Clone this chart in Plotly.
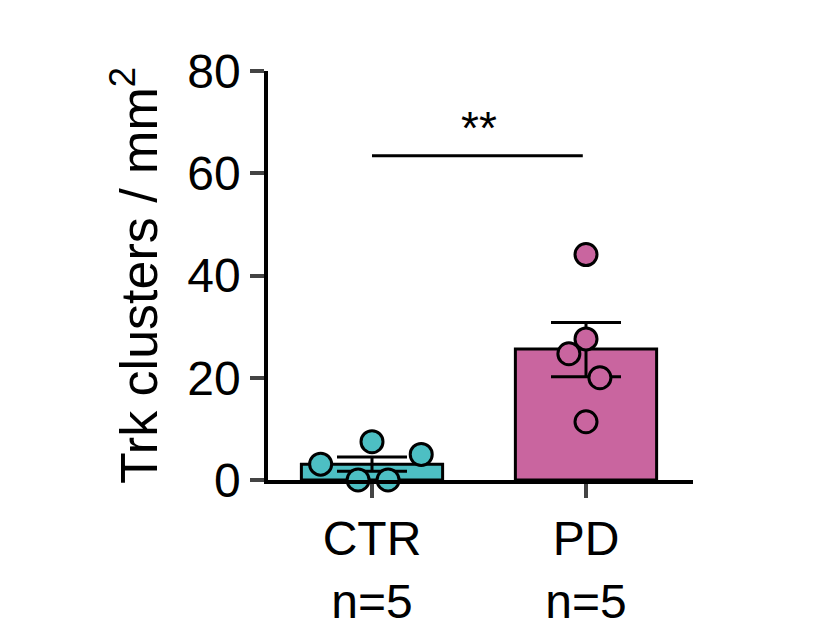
import plotly.graph_objects as go

groups = ["CTR", "PD"]
tick_labels = ["CTR<br>n=5", "PD<br>n=5"]
means = [3.1, 25.6]
sem_plus = [1.4, 5.2]
sem_minus = [1.4, 5.4]
ctr_vals = [3.1, 7.5, 0.0, 0.0, 5.0]
ctr_jitter = [-0.24, 0.0, -0.065, 0.075, 0.23]
pd_vals = [44.1, 27.6, 24.7, 20.0, 11.4]
pd_jitter = [0.0, 0.0, -0.08, 0.065, 0.0]
colors = ["#4dbfc3", "#c9659f"]
sig_y = 63.4

fig = go.Figure()
fig.add_bar(x=[0, 1], y=means, width=0.66, marker=dict(color=colors, line=dict(color="black", width=3)))
fig.add_scatter(x=[0, 1], y=means, mode="markers", marker=dict(size=1, color="rgba(0,0,0,0)"),
                error_y=dict(type="data", array=sem_plus, arrayminus=sem_minus, color="black", thickness=3, width=35))
fig.add_scatter(x=[0 + j for j in ctr_jitter], y=ctr_vals, mode="markers", cliponaxis=False,
                marker=dict(size=22, color=colors[0], line=dict(color="black", width=3)))
fig.add_scatter(x=[1 + j for j in pd_jitter], y=pd_vals, mode="markers", cliponaxis=False,
                marker=dict(size=22, color=colors[1], line=dict(color="black", width=3)))
fig.add_shape(type="line", x0=0, x1=0.985, y0=sig_y, y1=sig_y, line=dict(color="black", width=3))
fig.add_annotation(x=0.5, y=sig_y, text="**", showarrow=False, yanchor="bottom", font=dict(size=46, color="black"))

fig.update_layout(
    width=822, height=632, showlegend=False, plot_bgcolor="white", paper_bgcolor="white",
    margin=dict(l=260, r=137, t=63, b=149),
    font=dict(family="Liberation Sans, Arial", color="black"),
    xaxis=dict(range=[-0.486, 1.5], tickvals=[0, 1], ticktext=tick_labels, showline=True, linecolor="black",
               linewidth=3.5, ticks="outside", ticklen=14, tickwidth=3.5, tickfont=dict(size=48), showgrid=False, zeroline=False),
    yaxis=dict(range=[0, 80], tickvals=[0, 20, 40, 60, 80], showline=True, linecolor="black", linewidth=3.5,
               ticks="outside", ticklen=14, tickwidth=3.5, tickfont=dict(size=48), showgrid=False, zeroline=False,
               title=dict(text="Trk clusters / mm<sup>2</sup>", font=dict(size=52), standoff=14)),
)
fig.write_html("out.html")
